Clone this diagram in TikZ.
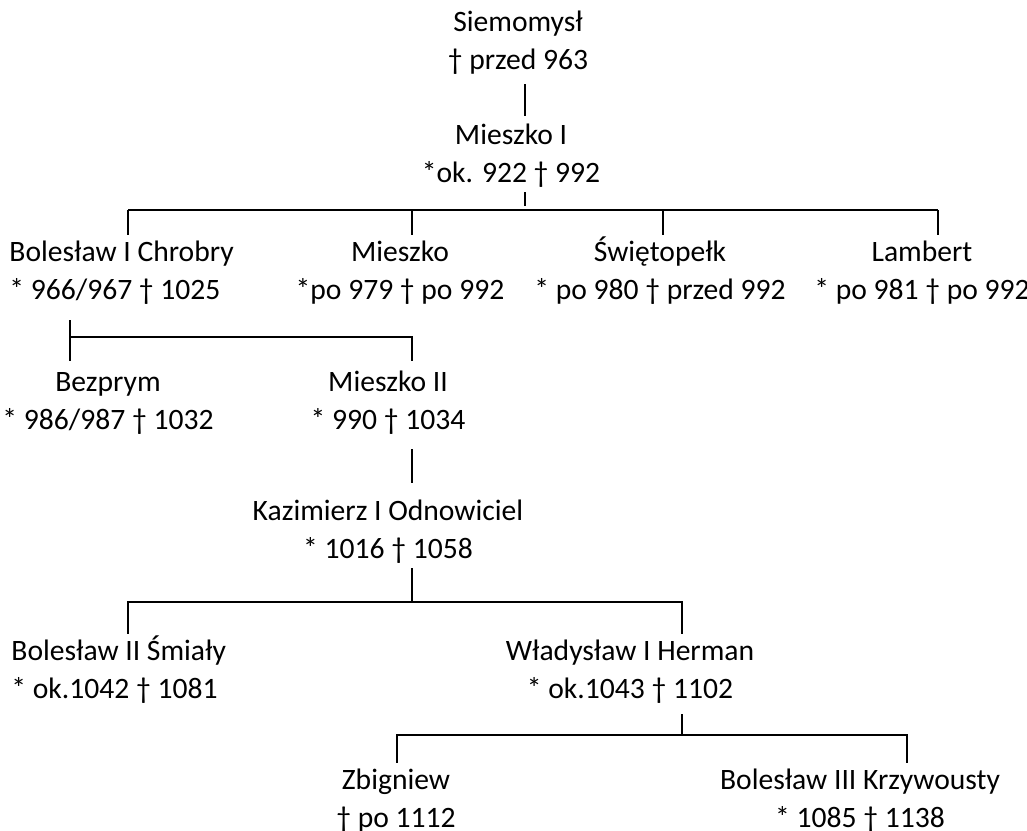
\documentclass[tikz,border=0pt]{standalone}
\usepackage{fontspec}
\setmainfont{Carlito}
\newcommand{\podpora}{\vrule height 13pt depth 5pt width 0pt}
\newcommand{\osoba}[2]{\podpora#1\\\podpora#2}

\begin{document}
\begin{tikzpicture}[x=0.5pt,y=-0.5pt,
	person/.style={align=center,inner sep=0pt,font=\fontsize{14.8}{17}\selectfont},
	link/.style={draw,line width=0.65pt}]
\useasboundingbox (0,0) rectangle (1027,830);
% osoby
\node[person] (siem) at (518,42) {\osoba{Siemomysł}{† przed 963}};
\node[person] (mie1) at (511,155) {\osoba{Mieszko I}{*ok. 922 † 992}};
\node[person,align=left,anchor=west] (bol1) at (9,272) {\osoba{Bolesław I Chrobry}{* 966/967 † 1025}};
\node[person] (mie) at (400,272) {\osoba{Mieszko}{*po 979 † po 992}};
\node[person] (swi) at (660,272) {\osoba{Świętopełk}{* po 980 † przed 992}};
\node[person] (lam) at (922,272) {\osoba{Lambert}{* po 981 † po 992}};
\node[person] (bez) at (108,402) {\osoba{Bezprym}{* 986/987 † 1032}};
\node[person] (mie2) at (388,402) {\osoba{Mieszko II}{* 990 † 1034}};
\node[person] (kaz) at (388,531) {\osoba{Kazimierz I Odnowiciel}{* 1016 † 1058}};
\node[person,align=left,anchor=west] (bol2) at (11,671) {\osoba{Bolesław II Śmiały}{* ok.1042 † 1081}};
\node[person] (wla) at (630,671) {\osoba{Władysław I Herman}{* ok.1043 † 1102}};
\node[person] (zbi) at (396,800) {\osoba{Zbigniew}{† po 1112}};
\node[person] (bol3) at (860,800) {\osoba{Bolesław III Krzywousty}{* 1085 † 1138}};

% linie
\draw[link,shorten >=1pt] (siem.south -| 525,0) ++(0,5) -- (mie1.north -| 525,0);
\draw[link] (mie1.south -| 525,0) -- ++(0,14);
\draw[link] (128,210) -- (938,210);
\foreach \kid/\x in {bol1/128,mie/412,swi/663,lam/938}
	\draw[link] (\x,210) -- (\kid.north -| \x,0);
\draw[link,shorten >=2pt] (bol1.south -| 70,0) ++(0,11) -- (bez.north -| 70,0);
\draw[link,shorten >=2pt] (70,337) -| (mie2.north -| 412,0);
\draw[link,shorten >=5.5pt] (mie2.south -| 412,0) ++(0,10) -- (kaz.north -| 412,0);
\draw[link] (kaz.south -| 412,0) -- (412,602);
\draw[link] (bol2.north -| 128,0) -- (128,602) -- (682,602) -- (wla.north -| 682,0);
\draw[link] (wla.south -| 682,0) ++(0,6) -- (682,735);
\draw[link] (zbi.north -| 397,0) -- (397,735) -- (907,735) -- (bol3.north -| 907,0);

\end{tikzpicture}
\end{document}
